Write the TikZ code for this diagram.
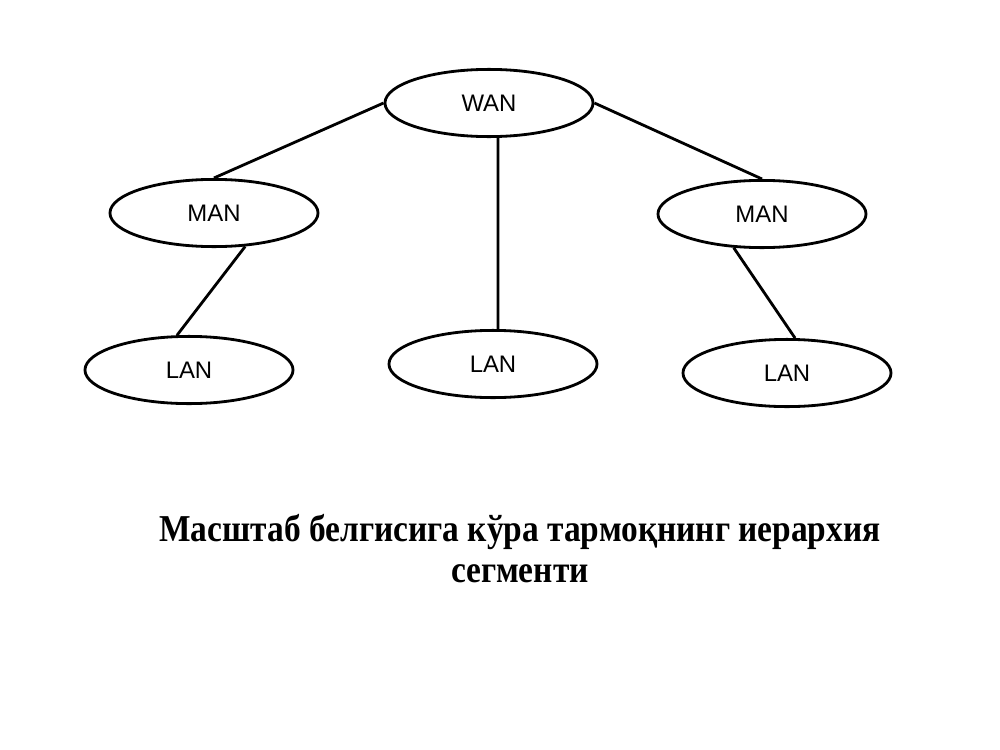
\documentclass[tikz,border=0pt]{standalone}
\usepackage{fontspec}
\setsansfont{Liberation Sans}
\newfontfamily\captionfont[FakeStretch=0.88]{Liberation Serif}
\usetikzlibrary{shapes.geometric}
\tikzset{%
  netnode/.style = {shape=ellipse, draw, line width=2pt, inner sep=0pt,%
                    minimum width=5.2cm, minimum height=1.68cm,%
                    font=\sffamily\fontsize{17}{20}\selectfont},%
  link/.style    = {line width=2pt},%
  caption/.style = {align=center, font=\captionfont\bfseries\fontsize{27}{29}\selectfont}%
}
\begin{document}
\begin{tikzpicture}[x=0.025cm,y=-0.025cm]
	\useasboundingbox (0,0) rectangle (1000,750);
	\node [netnode] (wan)  at (489,103) {WAN};
	\node [netnode] (manl) at (214,213) {MAN};
	\node [netnode] (manr) at (762,214) {MAN};
	\node [netnode] (lanl) at (189,370) {LAN};
	\node [netnode] (lanm) at (493,364) {LAN};
	\node [netnode] (lanr) at (787,373) {LAN};
	\draw [link] (wan.west) -- (manl.north);
	\draw [link] (wan.east) -- (manr.north);
	\draw [link] ([xshift=0.225cm]wan.south) -- ([xshift=0.125cm]lanm.north);
	\draw [link] (manl.-47) -- (lanl.109);
	\draw [link] (manr.230) -- (lanr.77);
	% base anchor sits on the last line
	\node [caption, anchor=base] (title) at (520,582) {Масштаб белгисига кўра тармоқнинг иерархия\\сегменти};
\end{tikzpicture}
\end{document}
